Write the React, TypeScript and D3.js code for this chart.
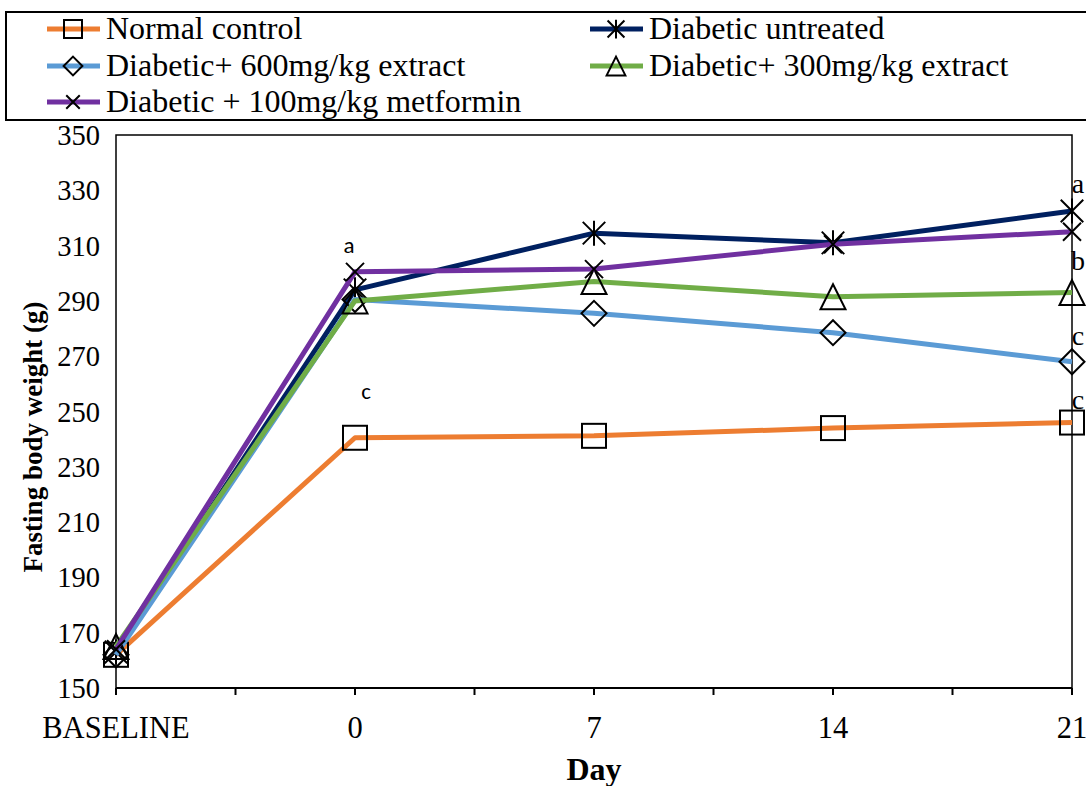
import React from "react";
import * as d3 from "d3";

const categories = ["BASELINE", "0", "7", "14", "21"];
const seriesNames = [
  "Normal control",
  "Diabetic untreated",
  "Diabetic+ 600mg/kg extract",
  "Diabetic+ 300mg/kg extract",
  "Diabetic + 100mg/kg metformin",
];
const normalControl = [162, 240.5, 241.2, 244, 246];
const diabeticUntreated = [163, 294, 314.5, 311, 322.5];
const extract600 = [162, 290.5, 285.5, 278.5, 268];
const extract300 = [165, 290, 297, 291.5, 293];
const metformin = [164, 300.5, 301.5, 310.5, 315];
const yTicks = [150, 170, 190, 210, 230, 250, 270, 290, 310, 330, 350];
const annotations = [
  { cat: "0", value: 307.5, text: "a", serif: false },
  { cat: "0", value: 254.5, text: "c", serif: false },
  { cat: "21", value: 329, text: "a", serif: true },
  { cat: "21", value: 301, text: "b", serif: true },
  { cat: "21", value: 274, text: "c", serif: true },
  { cat: "21", value: 251, text: "c", serif: true },
];

const colors = ["#ED7D31", "#002060", "#5B9BD5", "#70AD47", "#7030A0"];
const markers = ["square", "star", "diamond", "triangle", "x"];
const allSeries = [normalControl, diabeticUntreated, extract600, extract300, metformin];

const W = 1086;
const H = 786;
const left = 116;
const right = 1072;
const top = 135;
const bottom = 688;

function Marker({ type, x, y, s = 1 }: { type: string; x: number; y: number; s?: number }) {
  const st = { fill: "none", stroke: "#000", strokeWidth: 2 } as any;
  if (type === "square") {
    const h = 12 * s;
    return <rect x={x - h} y={y - h} width={2 * h} height={2 * h} {...st} />;
  }
  if (type === "diamond") {
    const h = 12.5 * s;
    return <path d={`M${x},${y - h}L${x + h},${y}L${x},${y + h}L${x - h},${y}Z`} {...st} />;
  }
  if (type === "triangle") {
    const h = 12.5 * s;
    return <path d={`M${x},${y - h}L${x + h},${y + h}L${x - h},${y + h}Z`} {...st} />;
  }
  if (type === "star") {
    const h = 12.5 * s;
    return (
      <path
        d={`M${x},${y - h}L${x},${y + h}M${x - h * 0.9},${y - h * 0.9}L${x + h * 0.9},${y + h * 0.9}M${x - h * 0.9},${y + h * 0.9}L${x + h * 0.9},${y - h * 0.9}`}
        {...st}
      />
    );
  }
  const h = 9 * s;
  return <path d={`M${x - h},${y - h}L${x + h},${y + h}M${x - h},${y + h}L${x + h},${y - h}`} {...st} />;
}

export default function App() {
  const x = d3.scalePoint<string>().domain(categories).range([left, right]);
  const y = d3.scaleLinear().domain([150, 350]).range([bottom, top]);
  const line = d3
    .line<number>()
    .x((_, i) => x(categories[i])!)
    .y((d) => y(d));
  const step = x.step();
  const tickXs: number[] = [];
  for (let i = 0; i < categories.length; i++) {
    tickXs.push(x(categories[i])!);
    if (i < categories.length - 1) tickXs.push(x(categories[i])! + step / 2);
  }
  const serif = "'Liberation Serif', 'Times New Roman', serif";
  const sans = "Carlito, 'Liberation Sans', 'DejaVu Sans', sans-serif";

  const legendPos = [
    { lx: 47, ly: 29 },
    { lx: 590, ly: 29 },
    { lx: 47, ly: 66 },
    { lx: 590, ly: 66 },
    { lx: 47, ly: 102 },
  ];

  return (
    <svg width={W} height={H} style={{ position: "absolute", left: 0, top: 0, background: "#fff" }}>
      <rect x={0} y={0} width={W} height={H} fill="#fff" />
      {/* legend */}
      <rect x={6} y={12} width={1090} height={108} fill="#fff" stroke="#000" strokeWidth={2} />
      {seriesNames.map((n, i) => {
        const p = legendPos[i];
        return (
          <g key={n}>
            <line x1={p.lx} x2={p.lx + 53} y1={p.ly} y2={p.ly} stroke={colors[i]} strokeWidth={5} />
            <Marker type={markers[i]} x={p.lx + 26} y={p.ly} s={0.75} />
            <text x={p.lx + 59} y={p.ly + 10} fontFamily={serif} fontSize={32} fill="#000">
              {n}
            </text>
          </g>
        );
      })}
      {/* plot frame */}
      <rect x={left} y={top} width={right - left} height={bottom - top} fill="none" stroke="#000" strokeWidth={1.5} />
      <line x1={left} x2={right} y1={bottom} y2={bottom} stroke="#000" strokeWidth={2} />
      {tickXs.map((tx, i) => (
        <line key={i} x1={tx} x2={tx} y1={bottom} y2={bottom + 7} stroke="#000" strokeWidth={2} />
      ))}
      {yTicks.map((t) => (
        <text key={t} x={100} y={y(t) + 10} textAnchor="end" fontFamily={serif} fontSize={28.5} fill="#000">
          {t}
        </text>
      ))}
      {categories.map((c) => (
        <text key={c} x={x(c)!} y={738} textAnchor="middle" fontFamily={serif} fontSize={30.5} fill="#000">
          {c}
        </text>
      ))}
      <text x={594} y={780} textAnchor="middle" fontFamily={serif} fontSize={32} fontWeight="bold" fill="#000">
        Day
      </text>
      <text
        transform={`translate(42,437) rotate(-90)`}
        textAnchor="middle"
        fontFamily={serif}
        fontSize={27}
        fontWeight="bold"
        fill="#000"
      >
        Fasting body weight (g)
      </text>
      {/* series */}
      {allSeries.map((s, i) => (
        <g key={i}>
          <path d={line(s) || ""} fill="none" stroke={colors[i]} strokeWidth={5} strokeLinejoin="round" />
          {s.map((v, j) => (
            <Marker key={j} type={markers[i]} x={x(categories[j])!} y={y(v)} />
          ))}
        </g>
      ))}
      {annotations.map((a, i) => (
        <text
          key={i}
          x={x(a.cat)! + (a.serif ? 6 : a.text === "c" ? 11 : -6)}
          y={y(a.value)}
          textAnchor="middle"
          fontFamily={a.serif ? serif : sans}
          fontSize={a.serif ? 28 : 23}
          fill="#000"
        >
          {a.text}
        </text>
      ))}
    </svg>
  );
}
